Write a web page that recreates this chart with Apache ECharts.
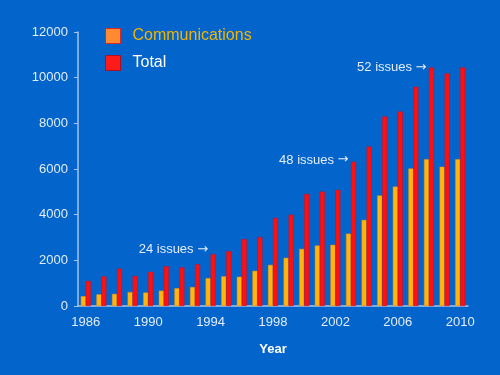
<!DOCTYPE html>
<html>
<head>
<meta charset="utf-8">
<script src="https://cdn.jsdelivr.net/npm/echarts@6/dist/echarts.min.js"></script>
<style>
  html, body { margin: 0; padding: 0; background: #0364cc; }
  #chart { width: 500px; height: 375px; }
</style>
</head>
<body>
<div id="chart"></div>
<script>
const years = [
  "1986", "1987", "1988", "1989", "1990", "1991", "1992", "1993", "1994",
  "1995", "1996", "1997", "1998", "1999", "2000", "2001", "2002", "2003",
  "2004", "2005", "2006", "2007", "2008", "2009", "2010",
];
const communications = [
  430, 510, 530, 610, 590, 670, 780, 830, 1220, 1300, 1280, 1540, 1800,
  2110, 2500, 2650, 2680, 3170, 3770, 4840, 5230, 6020, 6430, 6100, 6430,
];
const total = [
  1100, 1300, 1640, 1320, 1500, 1740, 1690, 1830, 2270, 2400, 2930, 3020,
  3860, 4000, 4910, 5010, 5090, 6320, 6990, 8300, 8520, 9600, 10450, 10190,
  10450,
];
// issue notes: [year, height where the text sits, text]
const notes = [
  ["1994", 2460, "24 issues"],
  ["2003", 6390, "48 issues"],
  ["2008", 10430, "52 issues"],
];

const axisColor = "#a9c3e6";
const labelColor = "#e4ecf7";
const fontFamily = "Liberation Sans, Arial, sans-serif";

const chart = echarts.init(document.getElementById("chart"));

const option = {
  backgroundColor: "#0364cc",
  animation: false,
  textStyle: { fontFamily: fontFamily },
  grid: { left: 78, right: 32, top: 32, bottom: 69 },
  legend: {
    orient: "vertical",
    left: 105,
    top: 28,
    padding: 0,
    icon: "rect",
    itemWidth: 15,
    itemHeight: 15,
    itemGap: 11,
    textStyle: { fontSize: 16, padding: [0, 0, 0, 7] },
    data: [
      {
        name: "Communications",
        itemStyle: { color: "#ff8a30", borderColor: "#d12a2a", borderWidth: 1 },
        textStyle: { color: "#f4b400" },
      },
      {
        name: "Total",
        itemStyle: { color: "#ff1a1a", borderColor: "#a8102a", borderWidth: 1 },
        textStyle: { color: "#ffffff" },
      },
    ],
  },
  xAxis: {
    type: "category",
    data: years,
    name: "Year",
    nameLocation: "middle",
    nameGap: 37,
    nameTextStyle: { color: "#ffffff", fontSize: 13, fontWeight: "bold" },
    axisLine: { lineStyle: { color: axisColor, width: 1.5 } },
    axisTick: { length: 4, lineStyle: { color: axisColor } },
    axisLabel: { interval: 3, color: labelColor, fontSize: 13, margin: 10 },
  },
  yAxis: {
    type: "value",
    min: 0,
    max: 12000,
    interval: 2000,
    splitLine: { show: false },
    axisLine: { show: true, lineStyle: { color: axisColor, width: 1.5 } },
    axisTick: { show: true, length: 4, lineStyle: { color: axisColor } },
    axisLabel: {
      color: labelColor,
      fontSize: 13,
      margin: 10,
      formatter: (v) => String(v),
    },
  },
  series: [
    {
      name: "Communications",
      type: "bar",
      data: communications,
      barWidth: 5,
      barGap: "0%",
      itemStyle: { color: "#ffb60a", borderColor: "#f08a10", borderWidth: 0.5 },
    },
    {
      name: "Total",
      type: "bar",
      data: total,
      barWidth: 5,
      barGap: "0%",
      itemStyle: { color: "#ff1010", borderColor: "#c0102a", borderWidth: 0.5 },
      markPoint: {
        symbol: "circle",
        symbolSize: 0,
        silent: true,
        label: {
          show: true,
          position: "left",
          distance: 5,
          color: labelColor,
          fontSize: 13,
          formatter: (p) => "{t|" + p.name + "} {a|\u2192}",
          rich: {
            t: { fontSize: 13, color: labelColor },
            a: { fontSize: 13, color: labelColor, fontFamily: "DejaVu Sans" },
          },
        },
        data: notes.map((n) => ({ name: n[2], coord: [n[0], n[1]] })),
      },
    },
  ],
};

chart.setOption(option);
</script>
</body>
</html>
